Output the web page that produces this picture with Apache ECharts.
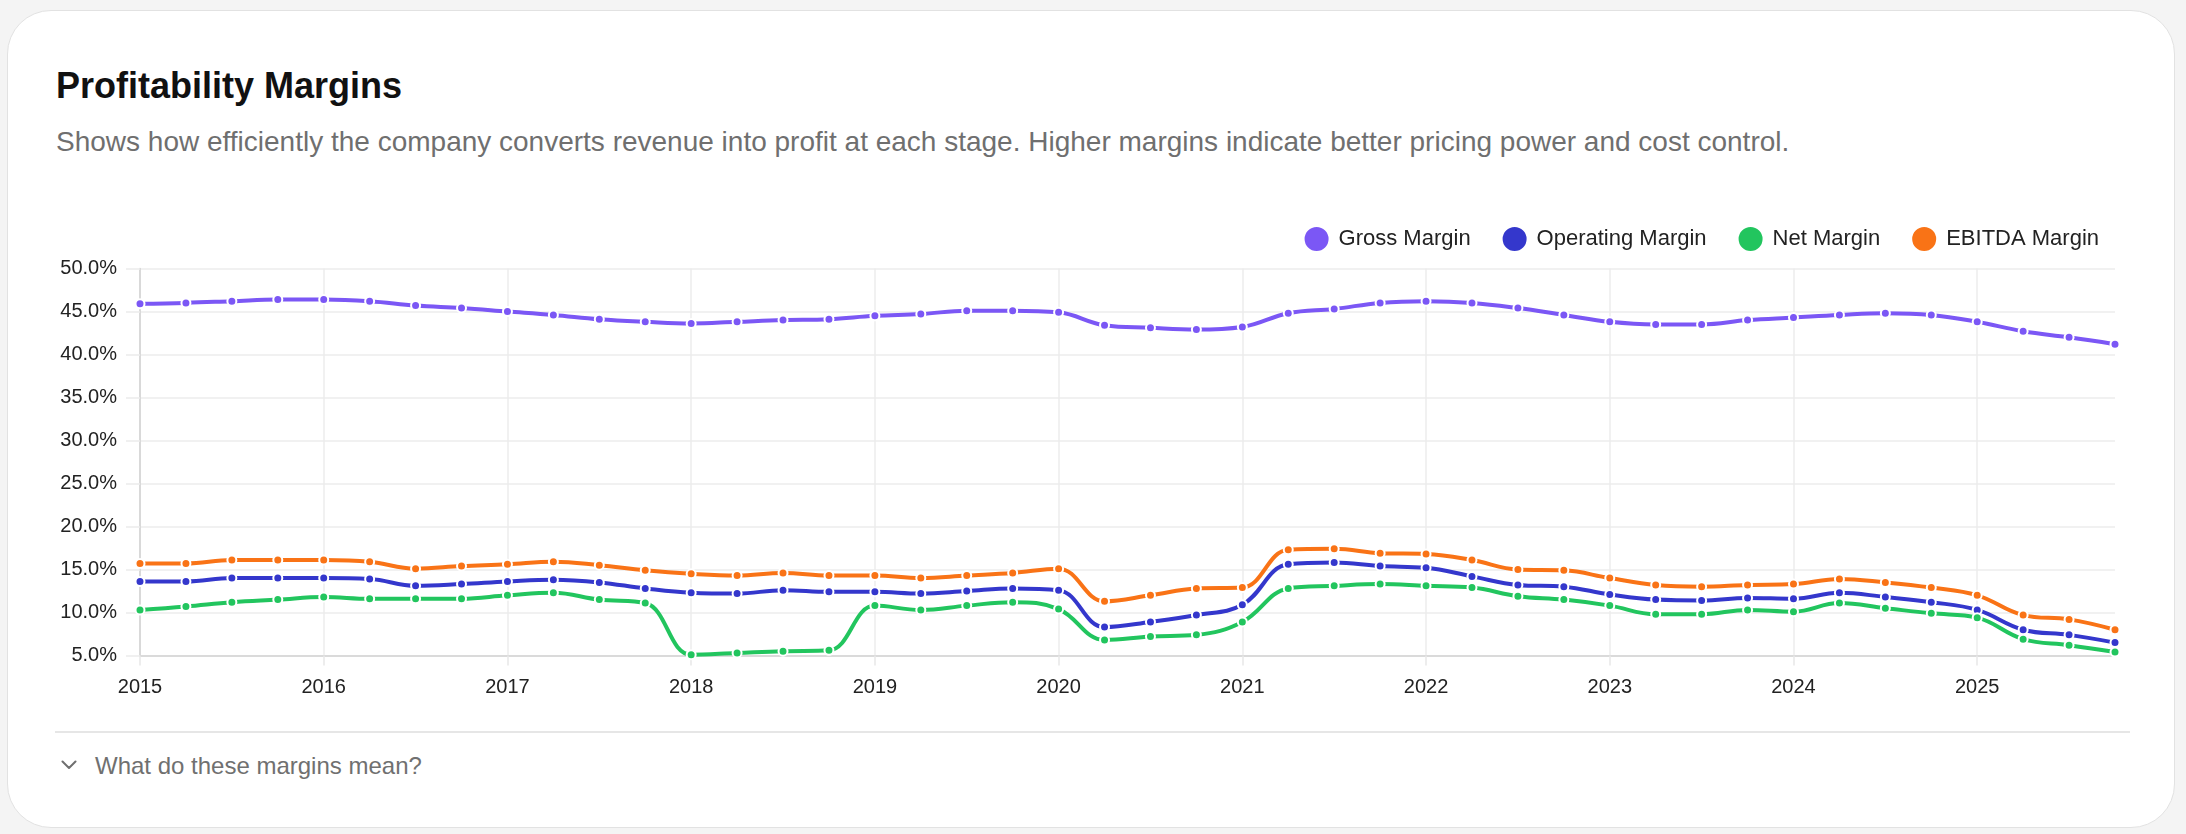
<!DOCTYPE html>
<html>
<head>
<meta charset="utf-8">
<script src="https://cdn.jsdelivr.net/npm/echarts@6/dist/echarts.min.js"></script>
<style>
  html, body { margin: 0; padding: 0; width: 2186px; height: 834px; background: #f4f4f4; overflow: hidden; font-family: "Liberation Sans", Arial, sans-serif; }
  #card { position: absolute; left: 7px; top: 10px; width: 2168px; height: 818px; background: #fff; border: 1.5px solid #e2e2e2; border-radius: 44px; box-sizing: border-box; }
  .t { position: absolute; white-space: nowrap; line-height: 1; }
  #title { left: 56px; top: 68px; font-size: 36px; font-weight: bold; color: #111; }
  #sub { left: 56px; top: 128px; font-size: 28px; color: #6f6f6f; }
  #divider { position: absolute; left: 55px; top: 731px; width: 2075px; height: 2px; background: #e6e6e6; }
  #foot { left: 95px; top: 754px; font-size: 24px; color: #707070; }
  #chev { position: absolute; left: 61px; top: 760px; }
  #chart { position: absolute; left: 0; top: 0; width: 2186px; height: 834px; }
</style>
</head>
<body>
<div id="card"></div>
<div class="t" id="title">Profitability Margins</div>
<div class="t" id="sub">Shows how efficiently the company converts revenue into profit at each stage. Higher margins indicate better pricing power and cost control.</div>
<div id="divider"></div>
<svg id="chev" width="16" height="10" viewBox="0 0 16 10"><polyline points="1.5,1.5 8,8 14.5,1.5" fill="none" stroke="#6f6f6f" stroke-width="2" stroke-linecap="round" stroke-linejoin="round"/></svg>
<div class="t" id="foot">What do these margins mean?</div>
<div id="chart"></div>
<script>
const years = [2015, 2016, 2017, 2018, 2019, 2020, 2021, 2022, 2023, 2024, 2025];
const quarters = ['Q1', 'Q2', 'Q3', 'Q4'];
const categories = years.flatMap(y => quarters.map(q => y + ' ' + q));

const seriesNames = ['Gross Margin', 'Operating Margin', 'Net Margin', 'EBITDA Margin'];

const grossMargin = [45.9, 46.0, 46.2, 46.4, 46.4, 46.2, 45.7, 45.4, 45.0, 44.6, 44.1, 43.8,
  43.6, 43.8, 44.0, 44.1, 44.5, 44.7, 45.1, 45.1, 44.9, 43.4, 43.1, 42.9,
  43.2, 44.8, 45.3, 46.0, 46.2, 46.0, 45.4, 44.6, 43.8, 43.5, 43.5, 44.0,
  44.3, 44.6, 44.8, 44.6, 43.8, 42.7, 42.0, 41.2];
const operatingMargin = [13.6, 13.6, 14.0, 14.0, 14.0, 13.9, 13.1, 13.3, 13.6, 13.8, 13.5, 12.8,
  12.3, 12.2, 12.6, 12.4, 12.4, 12.2, 12.5, 12.8, 12.6, 8.3, 8.9, 9.7,
  10.9, 15.6, 15.8, 15.4, 15.2, 14.2, 13.2, 13.0, 12.1, 11.5, 11.4, 11.7,
  11.6, 12.3, 11.8, 11.2, 10.3, 8.0, 7.4, 6.5];
const netMargin = [10.3, 10.7, 11.2, 11.5, 11.8, 11.6, 11.6, 11.6, 12.0, 12.3, 11.5, 11.1,
  5.1, 5.3, 5.5, 5.6, 10.8, 10.3, 10.8, 11.2, 10.4, 6.8, 7.2, 7.4,
  8.9, 12.8, 13.1, 13.3, 13.1, 12.9, 11.9, 11.5, 10.8, 9.8, 9.8, 10.3,
  10.1, 11.1, 10.5, 9.9, 9.4, 6.9, 6.2, 5.4];
const ebitdaMargin = [15.7, 15.7, 16.1, 16.1, 16.1, 15.9, 15.1, 15.4, 15.6, 15.9, 15.5, 14.9,
  14.5, 14.3, 14.6, 14.3, 14.3, 14.0, 14.3, 14.6, 15.1, 11.3, 12.0, 12.8,
  12.9, 17.3, 17.4, 16.9, 16.8, 16.1, 15.0, 14.9, 14.0, 13.2, 13.0, 13.2,
  13.3, 13.9, 13.5, 12.9, 12.0, 9.7, 9.2, 8.0];

const colors = ['#7B57F5', '#3437CC', '#22C55E', '#F97316'];
const allSeries = [grossMargin, operatingMargin, netMargin, ebitdaMargin];

const chart = echarts.init(document.getElementById('chart'));
const FONT = '"Liberation Sans", Arial, sans-serif';

chart.setOption({
  animation: false,
  color: colors,
  legend: {
    right: 82,
    top: 220,
    icon: 'circle',
    itemWidth: 26,
    itemHeight: 26,
    itemGap: 30,
    textStyle: { fontSize: 22, color: '#222', fontFamily: FONT, padding: [0, 0, 0, 4] },
    data: seriesNames
  },
  grid: { left: 140, right: 71, top: 268.5, bottom: 178.5, containLabel: false },
  xAxis: {
    type: 'category',
    boundaryGap: false,
    data: categories,
    axisLine: { show: true, lineStyle: { color: '#d2d2d2', width: 1.5 } },
    axisTick: { show: true, interval: 3, length: 10, lineStyle: { color: '#e8e8e8', width: 1.5 } },
    axisLabel: {
      interval: 3, margin: 22, fontSize: 20, color: '#222', fontFamily: FONT,
      formatter: v => v.slice(0, 4)
    },
    splitLine: { show: true, interval: 3, lineStyle: { color: '#ececec', width: 1.5 } }
  },
  yAxis: {
    type: 'value',
    min: 5,
    max: 50,
    interval: 5,
    axisLine: { show: true, lineStyle: { color: '#d2d2d2', width: 1.5 } },
    axisTick: { show: true, length: 14, lineStyle: { color: '#ececec', width: 1.5 } },
    axisLabel: { margin: 23, fontSize: 20, color: '#222', fontFamily: FONT, formatter: v => v.toFixed(1) + '%' },
    splitLine: { show: true, lineStyle: { color: '#ececec', width: 1.5 } }
  },
  series: seriesNames.map((name, i) => ({
    name: name,
    type: 'line',
    smooth: 0.4,
    data: allSeries[i],
    symbol: 'circle',
    symbolSize: 9,
    showSymbol: true,
    lineStyle: { width: 4, color: colors[i] },
    itemStyle: { color: colors[i], borderColor: '#fff', borderWidth: 2 }
  }))
});
</script>
</body>
</html>
